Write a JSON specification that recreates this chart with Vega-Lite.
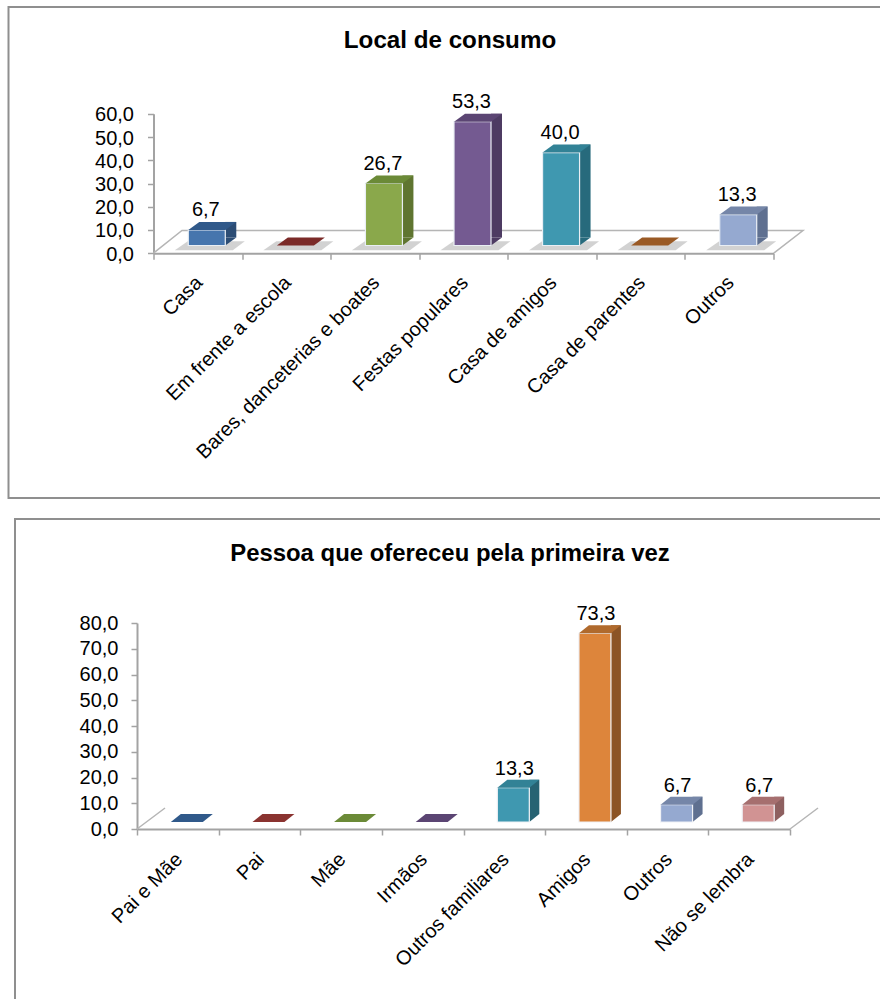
{
  "$schema": "https://vega.github.io/schema/vega-lite/v6.json",
  "padding": {"left": -0.5, "top": 6, "right": 0, "bottom": 0},
  "background": "white",
  "bounds": "flush",
  "center": true,
  "spacing": 21,
  "config": {
    "font": "Liberation Sans",
    "view": {"stroke": "#8f8f8f", "strokeWidth": 2, "fill": "white"},
    "title": {"font": "Liberation Sans", "fontWeight": "bold", "color": "#000000", "anchor": "middle", "dx": -8.5},
    "axis": {
      "title": null, "grid": false, "domainColor": "#a3a3a3", "domainWidth": 2, "tickColor": "#a3a3a3", "tickWidth": 1.5, "tickSize": 6,
      "labelFont": "Liberation Sans", "labelFontSize": 20, "labelColor": "#000000"
    }
  },
  "datasets": {
    "local": [
      {"categoria": "Casa", "percentual": 6.7},
      {"categoria": "Em frente a escola", "percentual": 0},
      {"categoria": "Bares, danceterias e boates", "percentual": 26.7},
      {"categoria": "Festas populares", "percentual": 53.3},
      {"categoria": "Casa de amigos", "percentual": 40.0},
      {"categoria": "Casa de parentes", "percentual": 0},
      {"categoria": "Outros", "percentual": 13.3}
    ],
    "pessoa": [
      {"categoria": "Pai e Mãe", "percentual": 0},
      {"categoria": "Pai", "percentual": 0},
      {"categoria": "Mãe", "percentual": 0},
      {"categoria": "Irmãos", "percentual": 0},
      {"categoria": "Outros familiares", "percentual": 13.3},
      {"categoria": "Amigos", "percentual": 73.3},
      {"categoria": "Outros", "percentual": 6.7},
      {"categoria": "Não se lembra", "percentual": 6.7}
    ]
  },
  "vconcat": [
    {
      "width": 900,
      "height": 491,
      "title": {"text": "Local de consumo", "offset": -46, "fontSize": 24.2},
      "data": {"name": "local"},
      "encoding": {
        "x": {
          "field": "categoria", "type": "nominal", "sort": null,
          "scale": {
            "domain": ["Casa", "Em frente a escola", "Bares, danceterias e boates", "Festas populares", "Casa de amigos", "Casa de parentes", "Outros"],
            "range": [145, 765], "paddingInner": 0, "paddingOuter": 0
          },
          "axis": {"orient": "bottom", "offset": -244.8, "tickBand": "extent", "labelAngle": -45, "labelAlign": "right", "labelBaseline": "middle", "labelPadding": 20, "labelOffset": 1, "labelLimit": 400}
        },
        "y": {
          "field": "percentual", "type": "quantitative", "stack": null,
          "scale": {"domain": [0, 60], "range": [246.2, 106.8], "nice": false, "zero": true},
          "axis": {"offset": -145, "values": [0, 10, 20, 30, 40, 50, 60], "labelExpr": "replace(format(datum.value, '.1f'), '.', ',')", "labelPadding": 14, "labelOffset": 1}
        }
      },
      "resolve": {"scale": {"color": "independent"}},
      "layer": [
        {
          "transform": [{"filter": "datum.categoria === 'Casa'"}],
          "mark": {"type": "point", "filled": false, "size": 4, "stroke": "#b5b5b5", "strokeWidth": 1.5, "opacity": 1, "shape": "M -44.3 0 L -15.8 -22.7 L 605.2 -22.7 L 576 0"},
          "encoding": {"y": {"datum": 0}}
        },
        {
          "mark": {"type": "point", "filled": true, "size": 4, "fill": "#b4b4b4", "opacity": 0.6, "shape": "M -23 -3 L 35 -3 L 47 -12 L -10 -12 Z"},
          "encoding": {"y": {"datum": 0}}
        },
        {
          "transform": [{"filter": "datum.percentual > 0"}],
          "mark": {"type": "bar", "width": 11, "xOffset": 33, "yOffset": -15.7, "y2Offset": -15.7},
          "encoding": {
            "y2": {"datum": 0},
            "color": {"field": "categoria", "type": "nominal", "legend": null,
              "scale": {
                "domain": ["Casa", "Bares, danceterias e boates", "Festas populares", "Casa de amigos", "Outros"],
                "range": ["#2c4d75", "#5f7530", "#4d3b62", "#276a7c", "#5f7090"]
              }}
          }
        },
        {
          "transform": [{"filter": "datum.percentual > 0"}],
          "mark": {"type": "point", "filled": true, "size": 4, "opacity": 1, "shape": "M 27.5 -7.7 L 38.5 -15.7 L 27.5 -15.7 Z"},
          "encoding": {
            "y": {"datum": 0},
            "color": {"field": "categoria", "type": "nominal", "legend": null,
              "scale": {
                "domain": ["Casa", "Bares, danceterias e boates", "Festas populares", "Casa de amigos", "Outros"],
                "range": ["#2c4d75", "#5f7530", "#4d3b62", "#276a7c", "#5f7090"]
              }}
          }
        },
        {
          "transform": [{"filter": "datum.percentual > 0"}],
          "mark": {"type": "bar", "width": 37, "xOffset": 9, "yOffset": -7.7, "y2Offset": -7.7, "stroke": "#e9eef4", "strokeWidth": 1.2},
          "encoding": {
            "y2": {"datum": 0},
            "color": {"field": "categoria", "type": "nominal", "legend": null,
              "scale": {
                "domain": ["Casa", "Bares, danceterias e boates", "Festas populares", "Casa de amigos", "Outros"],
                "range": ["#4675ad", "#8aa84b", "#745a91", "#3f98b0", "#95a9d0"]
              }}
          }
        },
        {
          "mark": {"type": "point", "filled": true, "size": 4, "opacity": 1, "shape": "M -9.5 -7.7 L 27.5 -7.7 L 38.5 -15.7 L 1.5 -15.7 Z"},
          "encoding": {
            "color": {"field": "categoria", "type": "nominal", "legend": null,
              "scale": {
                "domain": ["Casa", "Em frente a escola", "Bares, danceterias e boates", "Festas populares", "Casa de amigos", "Casa de parentes", "Outros"],
                "range": ["#30598a", "#7b2a28", "#6b8a37", "#5b4573", "#328296", "#9a5a25", "#7586a8"]
              }}
          }
        },
        {
          "transform": [
            {"filter": "datum.percentual > 0"},
            {"calculate": "replace(format(datum.percentual, '.1f'), '.', ',')", "as": "rotulo"}
          ],
          "mark": {"type": "text", "fontSize": 20, "font": "Liberation Sans", "color": "#000000", "baseline": "alphabetic", "align": "center", "dx": 8, "dy": -21.5},
          "encoding": {"text": {"field": "rotulo", "type": "nominal"}}
        }
      ]
    },
    {
      "width": 887,
      "height": 490,
      "title": {"text": "Pessoa que ofereceu pela primeira vez", "offset": -47, "fontSize": 23.9},
      "data": {"name": "pessoa"},
      "encoding": {
        "x": {
          "field": "categoria", "type": "nominal", "sort": null,
          "scale": {
            "domain": ["Pai e Mãe", "Pai", "Mãe", "Irmãos", "Outros familiares", "Amigos", "Outros", "Não se lembra"],
            "range": [122, 775], "paddingInner": 0, "paddingOuter": 0
          },
          "axis": {"orient": "bottom", "offset": -180, "tickBand": "extent", "labelAngle": -45, "labelAlign": "right", "labelBaseline": "middle", "labelPadding": 21, "labelOffset": 1, "labelLimit": 400}
        },
        "y": {
          "field": "percentual", "type": "quantitative", "stack": null,
          "scale": {"domain": [0, 80], "range": [310, 104], "nice": false, "zero": true},
          "axis": {"offset": -122, "values": [0, 10, 20, 30, 40, 50, 60, 70, 80], "labelExpr": "replace(format(datum.value, '.1f'), '.', ',')", "labelPadding": 13}
        }
      },
      "resolve": {"scale": {"color": "independent"}},
      "layer": [
        {
          "transform": [{"filter": "datum.categoria === 'Pai e Mãe'"}],
          "mark": {"type": "point", "filled": false, "size": 4, "stroke": "#b5b5b5", "strokeWidth": 1.5, "opacity": 1, "shape": "M -40.8 0 L -12.8 -21 M 612.2 0 L 640.2 -21"},
          "encoding": {"y": {"datum": 0}}
        },
        {
          "transform": [{"filter": "datum.percentual > 0"}],
          "mark": {"type": "bar", "width": 10, "xOffset": 30, "yOffset": -15, "y2Offset": -15},
          "encoding": {
            "y2": {"datum": 0},
            "color": {"field": "categoria", "type": "nominal", "legend": null,
              "scale": {
                "domain": ["Outros familiares", "Amigos", "Outros", "Não se lembra"],
                "range": ["#276373", "#8c5425", "#5f7090", "#8e6060"]
              }}
          }
        },
        {
          "transform": [{"filter": "datum.percentual > 0"}],
          "mark": {"type": "point", "filled": true, "size": 4, "opacity": 1, "shape": "M 25 -7 L 35 -15 L 25 -15 Z"},
          "encoding": {
            "y": {"datum": 0},
            "color": {"field": "categoria", "type": "nominal", "legend": null,
              "scale": {
                "domain": ["Outros familiares", "Amigos", "Outros", "Não se lembra"],
                "range": ["#276373", "#8c5425", "#5f7090", "#8e6060"]
              }}
          }
        },
        {
          "transform": [{"filter": "datum.percentual > 0"}],
          "mark": {"type": "bar", "width": 32, "xOffset": 9, "yOffset": -7, "y2Offset": -7, "stroke": "#f0f2f6", "strokeWidth": 1.2},
          "encoding": {
            "y2": {"datum": 0},
            "color": {"field": "categoria", "type": "nominal", "legend": null,
              "scale": {
                "domain": ["Outros familiares", "Amigos", "Outros", "Não se lembra"],
                "range": ["#3f98b0", "#dd853b", "#95a9d0", "#d19393"]
              }}
          }
        },
        {
          "mark": {"type": "point", "filled": true, "size": 4, "opacity": 1, "shape": "M -7 -7 L 25 -7 L 35 -15 L 3 -15 Z"},
          "encoding": {
            "color": {"field": "categoria", "type": "nominal", "legend": null,
              "scale": {
                "domain": ["Pai e Mãe", "Pai", "Mãe", "Irmãos", "Outros familiares", "Amigos", "Outros", "Não se lembra"],
                "range": ["#30598a", "#8a3330", "#6b8a37", "#5b4573", "#328296", "#b06a2d", "#7586a8", "#a66f6f"]
              }}
          }
        },
        {
          "transform": [
            {"filter": "datum.percentual > 0"},
            {"calculate": "replace(format(datum.percentual, '.1f'), '.', ',')", "as": "rotulo"}
          ],
          "mark": {"type": "text", "fontSize": 20, "font": "Liberation Sans", "color": "#000000", "baseline": "alphabetic", "align": "center", "dx": 10, "dy": -20},
          "encoding": {"text": {"field": "rotulo", "type": "nominal"}}
        }
      ]
    }
  ]
}
